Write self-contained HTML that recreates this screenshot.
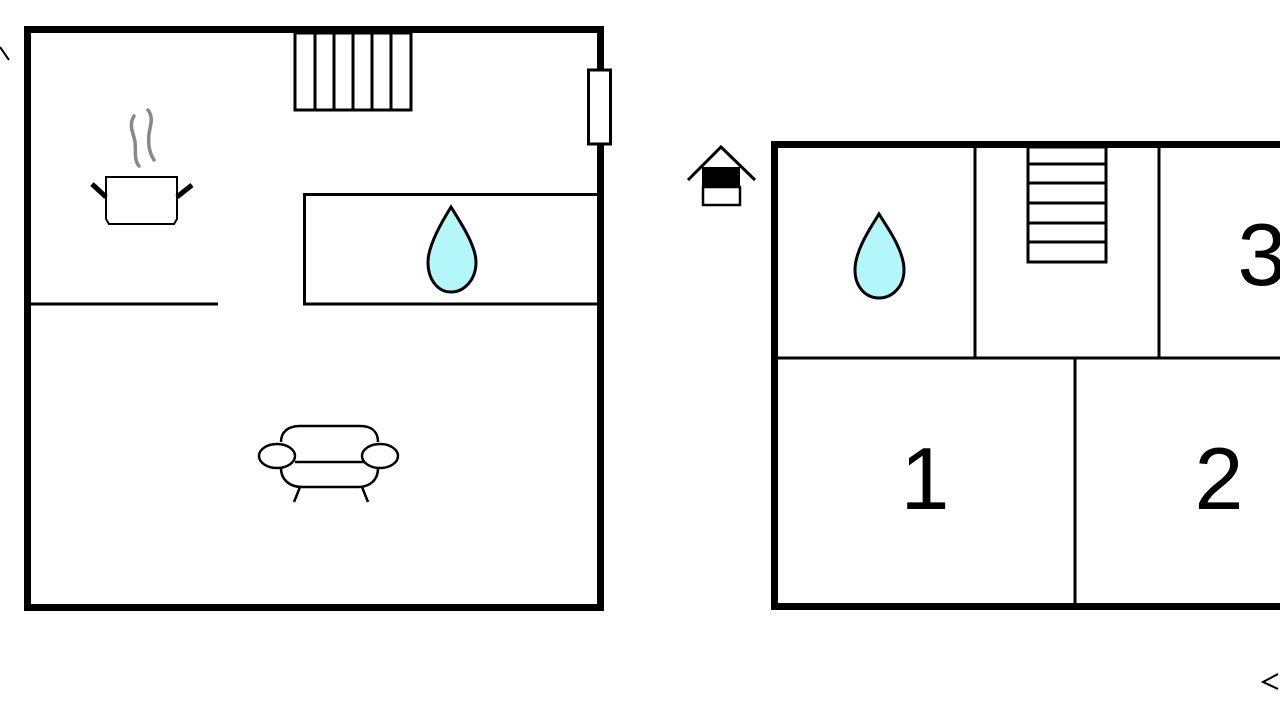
<!DOCTYPE html>
<html><head><style>html,body{margin:0;padding:0;background:#fff;width:1280px;height:720px;overflow:hidden}</style></head>
<body>
<svg width="1280" height="720" xmlns="http://www.w3.org/2000/svg" style="display:block">
<rect width="1280" height="720" fill="#fff"/>
<g fill="none" stroke="#000" stroke-linecap="butt">
<!-- left building -->
<rect x="27.5" y="29.5" width="573" height="578" stroke-width="7"/>
<rect x="295" y="33" width="116" height="77" stroke-width="3"/>
<path d="M315 33V110M334 33V110M353 33V110M372 33V110M391 33V110" stroke-width="3"/>
<rect x="588.5" y="70" width="22" height="74" stroke-width="3" fill="#fff"/>
<path d="M31 304H218" stroke-width="3"/>
<path d="M597 194.5H304.5V304H597" stroke-width="3"/>
<!-- pot -->
<path d="M106 177H177V219L174 224H109L106 219Z" stroke-width="2" fill="#fff"/>
<path d="M106 197L92 184M177 197L192 185" stroke-width="5"/>
<path d="M134 116C128 126 134 134 135 142C136 152 134 160 139 166" stroke="#888" stroke-width="3.5" stroke-linecap="round"/>
<path d="M148 110C154 118 150 126 149 134C148 144 149 152 154 160" stroke="#888" stroke-width="3.5" stroke-linecap="round"/>
<!-- sofa -->
<path d="M281 442C281 432 288 426 300 426H360C372 426 378 432 378 442" stroke-width="2.5"/>
<path d="M281 468C281 480 290 487 302 487H358C370 487 378 480 378 468" stroke-width="2.5"/>
<ellipse cx="277" cy="456" rx="18" ry="12" stroke-width="2.5" fill="#fff"/>
<ellipse cx="380" cy="456" rx="18" ry="12" stroke-width="2.5" fill="#fff"/>
<path d="M295 462H365M300 487L294 502M362 487L368 502" stroke-width="2.5"/>
<!-- right building -->
<rect x="774.5" y="144.5" width="600" height="462" stroke-width="7"/>
<path d="M975 146V358M1159 146V358M777 358H1280M1075 358V604" stroke-width="3"/>
<rect x="1028" y="147" width="78" height="115" stroke-width="3"/>
<path d="M1028 164H1106M1028 183H1106M1028 203H1106M1028 223H1106M1028 242H1106" stroke-width="3"/>
<!-- house icon -->
<path d="M688 180L721 147L755 180" stroke-width="3"/>
<rect x="703" y="187" width="37" height="18" stroke-width="2.5" fill="#fff"/>
<rect x="702" y="167" width="38" height="20" fill="#000" stroke="none"/>
<!-- marks -->
<path d="M0 47L9 60" stroke-width="2"/>
<path d="M1278 674L1263 682L1278 689" stroke-width="2"/>
</g>
<!-- drops -->
<path d="M451 207C443 220 428 245 428 262C428 280 438 292 451 292C464 292 476 280 476 262C476 245 459 220 451 207Z" fill="#b3f7fa" stroke="#000" stroke-width="3"/>
<path d="M879 214C871 227 855 250 855 270C855 287 866 298 879 298C892 298 904 287 904 270C904 250 887 227 879 214Z" fill="#b3f7fa" stroke="#000" stroke-width="3"/>
<g font-family="Liberation Sans, sans-serif" font-size="88" fill="#000" text-anchor="middle">
<text x="925" y="509">1</text>
<text x="1219" y="509">2</text>
<text x="1262" y="285">3</text>
</g>
</svg>
</body></html>
